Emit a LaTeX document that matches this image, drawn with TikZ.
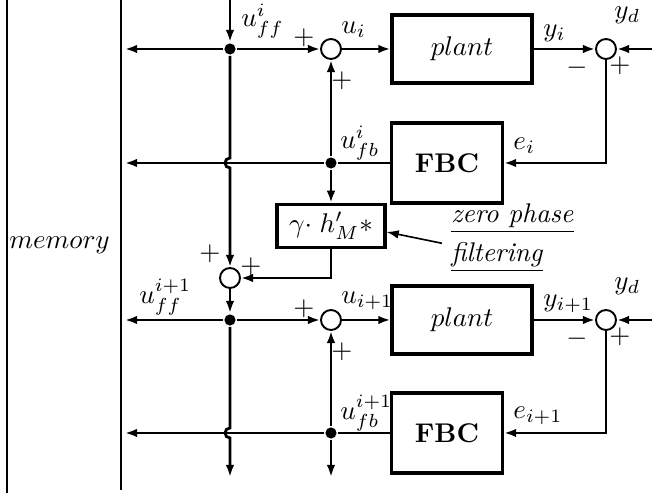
\documentclass[tikz,border=0pt]{standalone}
\usetikzlibrary{arrows.meta,calc}

\begin{document}
\begin{tikzpicture}[x=0.013cm, y=-0.013cm, line width=1.05pt,
    >={Latex[length=4.5pt,width=3.2pt]},
    blockbox/.style={draw, line width=1.15pt, inner sep=0pt},
    sumnode/.style={draw, circle, line width=0.7pt, minimum size=0.26cm, inner sep=0pt},
    joint/.style={fill, circle, minimum size=0.145cm, inner sep=0pt},
    lab/.style={anchor=west, inner sep=0pt},
    sgn/.style={inner sep=0pt}]
  \useasboundingbox (0,0) rectangle (652,493);

  \draw (7,0) -- (7,493);
  \draw (121,0) -- (121,490);
  \node[lab] (mem) at (8,245) {$memory$};

  \foreach \r/\y/\yb/\idx in {A/49/163/i, B/320/433/i+1} {
    \node[sumnode] (sumu\r) at (331,\y) {};
    \node[blockbox, minimum width=1.82cm, minimum height=0.884cm] (plant\r) at (462,\y) {$plant$};
    \node[sumnode] (sume\r) at (606,\y) {};
    \node[blockbox, minimum width=1.443cm, minimum height=1.04cm] (fbc\r) at (447,\yb) {\textbf{FBC}};
    \node[joint] (jfb\r) at (331,\yb) {};
    \coordinate (yd\r) at (652,\y);
    \coordinate (mfb\r) at (125,\yb);

    \draw[->] (sumu\r) -- (plant\r);
    \draw[->] (plant\r) -- (sume\r);
    \draw[->] (yd\r) -- (sume\r);
    \draw[->] (sume\r) |- (fbc\r);
    \draw (fbc\r) -- (jfb\r);
    \draw[->] (jfb\r) -- (sumu\r);
    \draw[->] (jfb\r) -- (mfb\r);

    \node[lab] (lu\r) at (340,\y-19) {$u_{\idx}$};
    \node[lab] (ly\r) at (542,\y-16) {$y_{\idx}$};
    \node[lab] (lyd\r) at (613,\y-34) {$y_d$};
    \node[lab] (le\r) at (512,\yb-17) {$e_{\idx}$};
    \node[lab] (lfb\r) at (339,\yb-20) {$u_{fb}^{\idx}$};
    \node[sgn] (pl\r) at (304,\y-11) {$+$};
    \node[sgn] (pb\r) at (342,\y+32) {$+$};
    \node[sgn] (mi\r) at (577,\y+19) {$-$};
    \node[sgn] (pr\r) at (620,\y+17) {$+$};
  }

  \node[joint] (jffA) at (230,49) {};
  \node[joint] (jffB) at (230,320) {};
  \node[sumnode] (sumg) at (230,278) {};
  \node[blockbox, minimum width=1.404cm, minimum height=0.56cm] (gain) at (331,226) {$\gamma{\cdot}\;h'_M{*}$};
  \coordinate (topin) at (230,0);
  \coordinate (mffA) at (125,49);
  \coordinate (mffB) at (125,320);
  \coordinate (botff) at (230,477);
  \coordinate (botfb) at (331,477);

  \draw[->] (topin) -- (jffA);
  \draw[->] (jffA) -- (mffA);
  \draw[->] (jffA) -- (sumuA);
  \draw[->] (jffA) -- ++(0,109) arc[start angle=90, end angle=270, radius=0.065cm] -- (sumg);
  \draw[->] (jfbA) -- (gain);
  \draw[->] (gain) |- (sumg);
  \draw[->] (sumg) -- (jffB);
  \draw[->] (jffB) -- (mffB);
  \draw[->] (jffB) -- (sumuB);
  \draw[->] (jffB) -- ++(0,108) arc[start angle=90, end angle=270, radius=0.065cm] -- (botff);
  \draw[->] (jfbB) -- (botfb);

  \node[lab] (lffA) at (240,21) {$u_{ff}^{i}$};
  \node[lab] (lffB) at (138,297) {$u_{ff}^{i+1}$};
  \node[sgn] (pgl) at (210,254) {$+$};
  \node[sgn] (pgr) at (251,267) {$+$};

  \node[lab] (zp) at (450,218) {\underline{\textit{zero phase}}};
  \node[lab] (filt) at (450,257) {\underline{\textit{filtering}}};
  \draw[->, line width=0.6pt] ([xshift=-3pt,yshift=-1pt]filt.north west) -- ([yshift=-2.2pt]gain.east);
\end{tikzpicture}
\end{document}
